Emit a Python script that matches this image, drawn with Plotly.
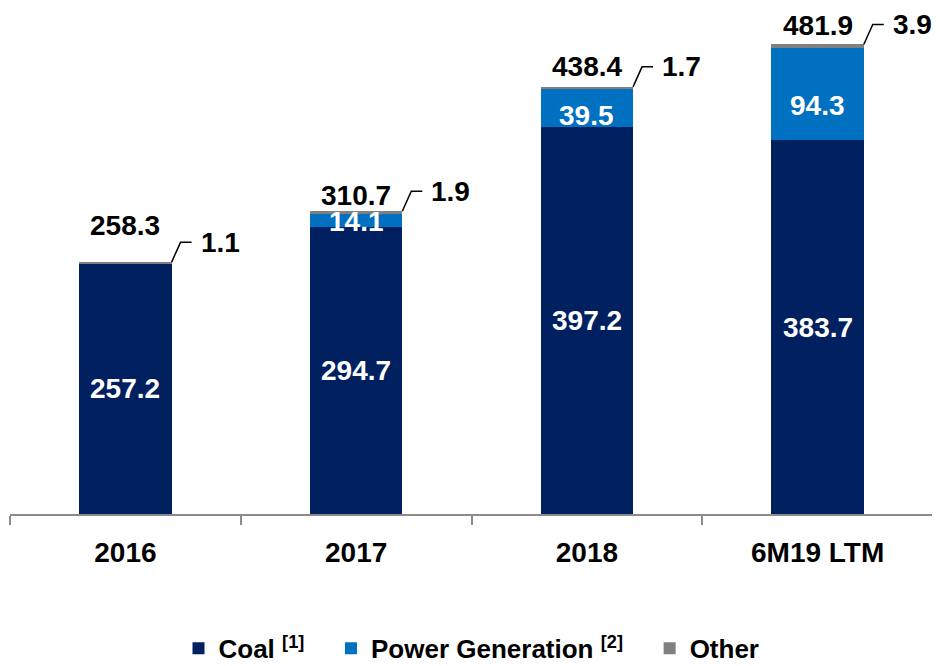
import plotly.graph_objects as go

# ---- data ----
categories = ["2016", "2017", "2018", "6M19 LTM"]
coal = [257.2, 294.7, 397.2, 383.7]
power_generation = [0.0, 14.1, 39.5, 94.3]
other = [1.1, 1.9, 1.7, 3.9]
totals = [258.3, 310.7, 438.4, 481.9]
pg_labels = ["", "14.1", "39.5", "94.3"]
series_names = ["Coal <sup>[1]</sup>", "Power Generation <sup>[2]</sup>", "Other"]

# ---- style ----
COAL_C = "#002060"
PG_C = "#0070C0"
OTHER_C = "#808080"
FONT = "Liberation Sans, Arial, sans-serif"
BAR_W = 0.4
total_lift_px = [37, 16, 20, 19]
pg_drop_px = [0, 2, 8, 11]
LEGEND_PAD = "&nbsp;" * 3

xpos = list(range(len(categories)))

fig = go.Figure()
fig.add_bar(x=xpos, y=coal, name=series_names[0] + LEGEND_PAD,
            marker=dict(color=COAL_C, line=dict(width=0)), width=BAR_W)
fig.add_bar(x=xpos, y=power_generation, name=series_names[1] + LEGEND_PAD,
            marker=dict(color=PG_C, line=dict(width=0)), width=BAR_W)
fig.add_bar(x=xpos, y=other, name=series_names[2],
            marker=dict(color=OTHER_C, line=dict(width=0)), width=BAR_W)

ann = []
shapes = []
for i in xpos:
    ann.append(dict(x=i, y=coal[i] / 2, text=f"{coal[i]:.1f}", showarrow=False,
                    font=dict(family=FONT, size=28, color="white", weight="bold")))
    if pg_labels[i]:
        ann.append(dict(x=i, y=coal[i] + power_generation[i] / 2, text=pg_labels[i], showarrow=False,
                        yshift=-pg_drop_px[i],
                        font=dict(family=FONT, size=28, color="white", weight="bold")))
    ann.append(dict(x=i, y=totals[i], text=f"{totals[i]:.1f}", showarrow=False, yanchor="middle",
                    yshift=total_lift_px[i],
                    font=dict(family=FONT, size=28, color="black", weight="bold")))
    right = i + BAR_W / 2
    ann.append(dict(x=right, y=totals[i], xref="x", yref="y", text=f"{other[i]:.1f}", showarrow=False,
                    xanchor="left", yanchor="middle", xshift=27, yshift=20,
                    font=dict(family=FONT, size=28, color="black", weight="bold")))
    shapes.append(dict(type="path", xref="x", yref="y", xsizemode="pixel", ysizemode="pixel",
                       xanchor=right, yanchor=totals[i],
                       path="M0,0 L9,20 L20,20", line=dict(color="black", width=1.5)))

fig.update_layout(
    barmode="stack",
    width=940, height=666,
    margin=dict(l=2, r=15, t=12, b=154),
    paper_bgcolor="white", plot_bgcolor="white",
    font=dict(family=FONT, size=28, color="black", weight="bold"),
    annotations=ann,
    shapes=shapes,
    showlegend=True,
    legend=dict(orientation="h", x=0.5, xanchor="center", y=-0.272, yanchor="middle",
                font=dict(family=FONT, size=26, color="black", weight="bold"),
                itemclick=False, traceorder="normal"),
)
fig.update_xaxes(range=[-0.5, len(categories) - 0.5], showline=True, linecolor="#8c8c8c", linewidth=1.5,
                 tickmode="array", tickvals=xpos, ticktext=categories, ticks="",
                 minor=dict(ticks="outside", tickmode="linear", tick0=-0.5, dtick=1, ticklen=9,
                            tickcolor="#8c8c8c", tickwidth=1.5, showgrid=False),
                 tickfont=dict(family=FONT, size=28, color="black", weight="bold"),
                 ticklabelstandoff=13,
                 showgrid=False, zeroline=False)
fig.update_yaxes(visible=False, range=[0, 507], showgrid=False)

fig.write_html("out.html")
